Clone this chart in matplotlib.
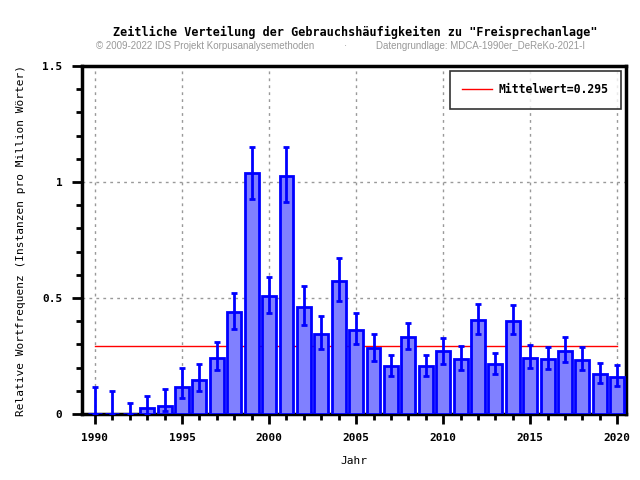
import matplotlib.pyplot as plt
from matplotlib.ticker import MultipleLocator
import numpy as np

# ---- data ----
years = np.arange(1990, 2021)
freq = [0.0, 0.0, 0.0, 0.026, 0.036, 0.118, 0.148, 0.243, 0.438, 1.037,
        0.507, 1.027, 0.463, 0.346, 0.575, 0.363, 0.283, 0.206, 0.333, 0.208,
        0.270, 0.238, 0.407, 0.217, 0.402, 0.243, 0.238, 0.273, 0.234, 0.174,
        0.161]
err_low = [0.0, 0.0, 0.0, 0.0, 0.014, 0.069, 0.099, 0.190, 0.366, 0.927,
           0.437, 0.915, 0.385, 0.280, 0.488, 0.303, 0.230, 0.164, 0.280, 0.164,
           0.217, 0.190, 0.346, 0.174, 0.346, 0.200, 0.194, 0.225, 0.191, 0.134,
           0.122]
err_high = [0.118, 0.100, 0.048, 0.079, 0.109, 0.200, 0.216, 0.312, 0.523, 1.152,
            0.592, 1.152, 0.553, 0.424, 0.674, 0.437, 0.346, 0.254, 0.394, 0.254,
            0.329, 0.293, 0.475, 0.264, 0.471, 0.299, 0.290, 0.333, 0.290, 0.221,
            0.212]
mean_value = 0.295

title = 'Zeitliche Verteilung der Gebrauchshäufigkeiten zu "Freisprechanlage"'
subtitle_left = "© 2009-2022 IDS Projekt Korpusanalysemethoden"
subtitle_right = "Datengrundlage: MDCA-1990er_DeReKo-2021-I"

plt.rcParams["font.family"] = ["DejaVu Sans Mono"]
plt.rcParams["font.weight"] = "bold"

fig = plt.figure(figsize=(6.4, 4.8), dpi=100)
ax = fig.add_axes([0.128, 0.1375, 0.85, 0.725])

freq = np.array(freq)
yerr = [freq - np.array(err_low), np.array(err_high) - freq]

ax.bar(years, freq, width=0.8, color="#8080ff", edgecolor="#0000ff",
       linewidth=2, zorder=3)
ax.errorbar(years, freq, yerr=yerr, fmt="none", ecolor="#0000ff",
            elinewidth=2, capsize=2.5, capthick=2, zorder=4)

# mean line sits behind the bars
ax.plot([years[0], years[-1]], [mean_value, mean_value], color="red",
        linewidth=1, zorder=2, label=f"Mittelwert={mean_value:.3f}")

ax.set_xlim(1989.25, 2020.5)
ax.set_ylim(0, 1.5)
ax.xaxis.set_major_locator(MultipleLocator(5))
ax.xaxis.set_minor_locator(MultipleLocator(1))
ax.yaxis.set_major_locator(MultipleLocator(0.5))
ax.yaxis.set_minor_locator(MultipleLocator(0.1))
ax.yaxis.set_major_formatter(plt.FuncFormatter(lambda v, p: f"{v:g}"))

ax.tick_params(which="major", direction="out", length=7, width=2,
               labelsize=8, pad=7)
ax.tick_params(which="minor", direction="out", length=4, width=2)
for s in ax.spines.values():
    s.set_linewidth(2.5)

ax.grid(which="major", color="#999999", linestyle=(0, (2, 3)), linewidth=1,
        zorder=0)
ax.set_axisbelow(True)

ax.set_xlabel("Jahr", fontsize=8, labelpad=9)
ax.set_ylabel("Relative Wortfrequenz (Instanzen pro Million Wörter)",
              fontsize=8, labelpad=12)

leg = ax.legend(loc="upper right", fontsize=8.3, frameon=True, fancybox=False,
                edgecolor="black", borderpad=1.1, borderaxespad=0.3,
                handlelength=2.6, handletextpad=0.5,
                bbox_to_anchor=(0.997, 0.997))
leg.get_frame().set_linewidth(1.2)

fig.text(0.555, 0.925, title, ha="center", fontsize=8.5, fontweight="bold")
fig.text(0.15, 0.897, subtitle_left, ha="left", fontsize=7,
         color="#999999", fontweight="normal", family="Liberation Sans")
fig.text(0.54, 0.897, "·", ha="center", fontsize=7,
         color="#999999", fontweight="normal", family="Liberation Sans")
fig.text(0.588, 0.897, subtitle_right, ha="left", fontsize=7,
         color="#999999", fontweight="normal", family="Liberation Sans")

fig.savefig("out.png", dpi=100)
